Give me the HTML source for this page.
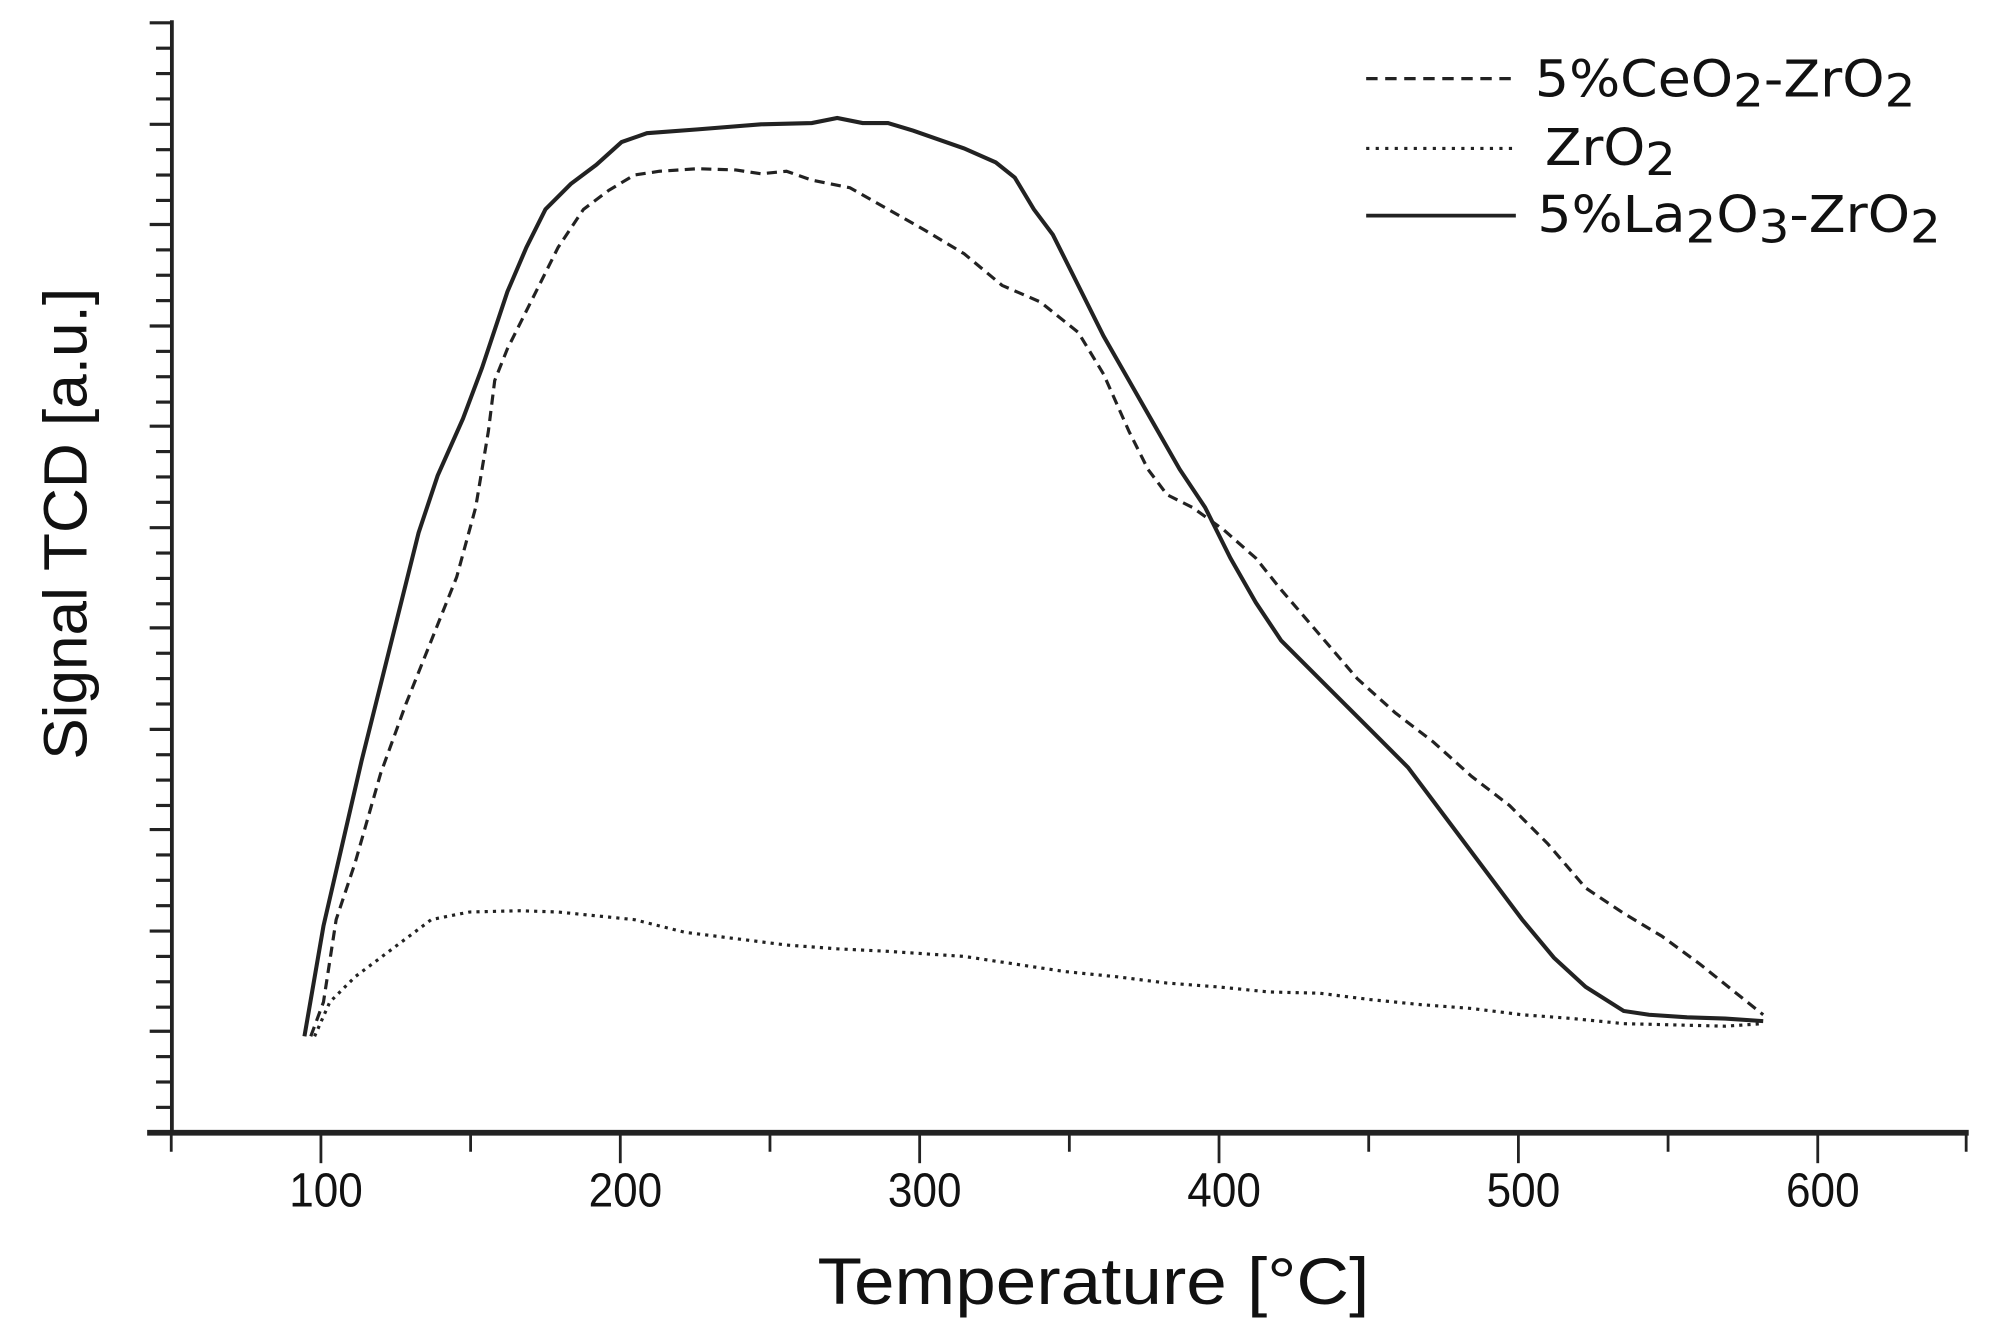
<!DOCTYPE html>
<html><head><style>html,body{margin:0;padding:0;background:#fff;}svg{display:block;}</style></head>
<body>
<svg width="1989" height="1323" viewBox="0 0 1568 1043" preserveAspectRatio="none" xmlns="http://www.w3.org/2000/svg">
<rect width="1568" height="1043" fill="#fff"/>
<g stroke="#222" fill="none">
<line x1="135.5" y1="16" x2="135.5" y2="895" stroke-width="3"/>
<line x1="116" y1="893" x2="1552" y2="893" stroke-width="4.5"/>
<g stroke-width="2.5">
<line x1="118" y1="18" x2="135" y2="18"/><line x1="118" y1="98" x2="135" y2="98"/><line x1="118" y1="177" x2="135" y2="177"/><line x1="118" y1="257" x2="135" y2="257"/><line x1="118" y1="336" x2="135" y2="336"/><line x1="118" y1="416" x2="135" y2="416"/><line x1="118" y1="495" x2="135" y2="495"/><line x1="118" y1="575" x2="135" y2="575"/><line x1="118" y1="654" x2="135" y2="654"/><line x1="118" y1="734" x2="135" y2="734"/><line x1="118" y1="813" x2="135" y2="813"/>
<line x1="123" y1="38" x2="135" y2="38"/><line x1="123" y1="58" x2="135" y2="58"/><line x1="123" y1="78" x2="135" y2="78"/>
<line x1="123" y1="118" x2="135" y2="118"/><line x1="123" y1="138" x2="135" y2="138"/><line x1="123" y1="158" x2="135" y2="158"/>
<line x1="123" y1="197" x2="135" y2="197"/><line x1="123" y1="217" x2="135" y2="217"/><line x1="123" y1="237" x2="135" y2="237"/>
<line x1="123" y1="277" x2="135" y2="277"/><line x1="123" y1="297" x2="135" y2="297"/><line x1="123" y1="317" x2="135" y2="317"/>
<line x1="123" y1="356" x2="135" y2="356"/><line x1="123" y1="376" x2="135" y2="376"/><line x1="123" y1="396" x2="135" y2="396"/>
<line x1="123" y1="436" x2="135" y2="436"/><line x1="123" y1="456" x2="135" y2="456"/><line x1="123" y1="476" x2="135" y2="476"/>
<line x1="123" y1="515" x2="135" y2="515"/><line x1="123" y1="535" x2="135" y2="535"/><line x1="123" y1="555" x2="135" y2="555"/>
<line x1="123" y1="595" x2="135" y2="595"/><line x1="123" y1="615" x2="135" y2="615"/><line x1="123" y1="635" x2="135" y2="635"/>
<line x1="123" y1="674" x2="135" y2="674"/><line x1="123" y1="694" x2="135" y2="694"/><line x1="123" y1="714" x2="135" y2="714"/>
<line x1="123" y1="754" x2="135" y2="754"/><line x1="123" y1="774" x2="135" y2="774"/><line x1="123" y1="794" x2="135" y2="794"/>
<line x1="123" y1="833" x2="135" y2="833"/><line x1="123" y1="853" x2="135" y2="853"/><line x1="123" y1="873" x2="135" y2="873"/>
</g>
<g stroke-width="2.2">
<line x1="135" y1="893" x2="135" y2="908"/><line x1="253" y1="893" x2="253" y2="917"/><line x1="371" y1="893" x2="371" y2="908"/><line x1="489" y1="893" x2="489" y2="917"/><line x1="607" y1="893" x2="607" y2="908"/><line x1="725" y1="893" x2="725" y2="917"/><line x1="843" y1="893" x2="843" y2="908"/><line x1="961" y1="893" x2="961" y2="917"/><line x1="1079" y1="893" x2="1079" y2="908"/><line x1="1197" y1="893" x2="1197" y2="917"/><line x1="1315" y1="893" x2="1315" y2="908"/><line x1="1433" y1="893" x2="1433" y2="917"/><line x1="1550" y1="893" x2="1550" y2="908"/>
</g>
<polyline stroke-width="3.2" points="240,817 255,730 270,665 285,600 300,540 315,480 330,420 345,375 365,330 380,290 400,230 415,195 430,165 450,145 470,130 490,112 510,105 550,102 600,98 640,97 660,93 680,97 700,97 720,103 740,110 760,117 785,128 800,140 815,165 830,185 850,225 870,265 890,300 910,335 930,370 950,400 970,440 990,475 1010,505 1030,525 1050,545 1080,575 1110,605 1140,645 1170,685 1200,725 1225,755 1250,778 1280,797 1300,800 1330,802 1360,803 1390,805"/>
<polyline stroke-width="2.5" stroke-dasharray="8,5" points="245,817 255,790 265,725 280,680 300,610 320,555 340,505 360,455 375,400 385,340 390,300 400,275 420,235 440,195 460,165 480,150 500,138 520,135 550,133 580,134 600,137 620,135 640,142 670,148 700,165 730,182 760,200 790,225 820,238 850,262 870,295 890,340 905,370 920,390 940,400 965,418 990,440 1010,465 1040,500 1070,535 1100,562 1130,585 1160,612 1190,635 1220,665 1250,700 1280,720 1310,738 1340,760 1365,780 1390,800"/>
<polyline stroke-width="2.5" stroke-dasharray="2.5,4" points="248,817 260,790 280,770 300,755 320,740 340,725 370,719 410,718 440,719 470,722 500,725 540,735 580,740 620,745 660,748 700,750 760,754 800,760 840,766 880,770 920,775 960,778 1000,782 1040,783 1080,788 1120,792 1160,795 1200,800 1240,803 1280,807 1320,808 1360,809 1390,807"/>
<line x1="1077" y1="62" x2="1195" y2="62" stroke-width="2.5" stroke-dasharray="9,6"/>
<line x1="1077" y1="117" x2="1195" y2="117" stroke-width="2.5" stroke-dasharray="2.5,5"/>
<line x1="1077" y1="170" x2="1195" y2="170" stroke-width="3"/>
</g>
<g font-family="Liberation Sans, sans-serif" fill="#111">
<g font-size="38" text-anchor="middle">
<text x="257" y="951" textLength="58" lengthAdjust="spacingAndGlyphs">100</text>
<text x="493" y="951" textLength="58" lengthAdjust="spacingAndGlyphs">200</text>
<text x="729" y="951" textLength="58" lengthAdjust="spacingAndGlyphs">300</text>
<text x="965" y="951" textLength="58" lengthAdjust="spacingAndGlyphs">400</text>
<text x="1201" y="951" textLength="58" lengthAdjust="spacingAndGlyphs">500</text>
<text x="1437" y="951" textLength="58" lengthAdjust="spacingAndGlyphs">600</text>
</g>
<text x="862" y="1028" font-size="52" text-anchor="middle" textLength="435" lengthAdjust="spacingAndGlyphs">Temperature [°C]</text>
<text transform="translate(68,413) rotate(-90)" font-size="48" text-anchor="middle" textLength="372" lengthAdjust="spacingAndGlyphs">Signal TCD [a.u.]</text>
<g font-size="40" font-family="DejaVu Sans, sans-serif">
<text x="1210" y="76" textLength="300" lengthAdjust="spacingAndGlyphs">5%CeO<tspan font-size="36" dy="8">2</tspan><tspan dy="-8">-ZrO</tspan><tspan font-size="36" dy="8">2</tspan></text>
<text x="1218" y="130" textLength="103" lengthAdjust="spacingAndGlyphs">ZrO<tspan font-size="36" dy="8">2</tspan></text>
<text x="1212" y="183" textLength="318" lengthAdjust="spacingAndGlyphs">5%La<tspan font-size="36" dy="8">2</tspan><tspan dy="-8">O</tspan><tspan font-size="36" dy="8">3</tspan><tspan dy="-8">-ZrO</tspan><tspan font-size="36" dy="8">2</tspan></text>
</g>
</g>
</svg>
</body></html>
